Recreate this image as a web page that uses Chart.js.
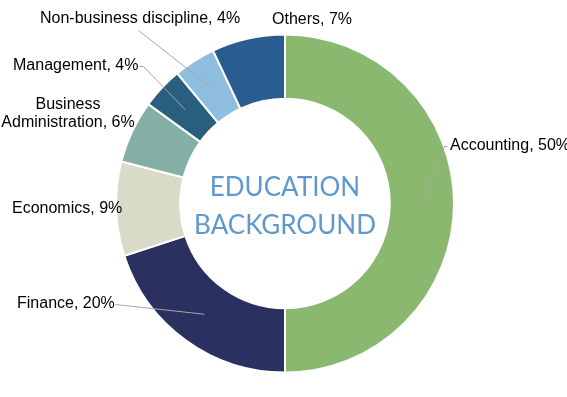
<!DOCTYPE html>
<html>
<head>
<meta charset="utf-8">
<script src="https://cdn.jsdelivr.net/npm/chart.js@4/dist/chart.umd.min.js"></script>
<style>
html,body{margin:0;padding:0;background:#fff;}
#wrap{position:relative;width:567px;height:397px;}
</style>
</head>
<body>
<div id="wrap"><canvas id="c" width="567" height="397"></canvas></div>
<script>
const categories = ["Accounting", "Finance", "Economics", "Business Administration", "Management", "Non-business discipline", "Others"];
const values = [50, 20, 9, 6, 4, 4, 7];
const colors = ["#8AB86F", "#2A3060", "#D8DBC7", "#84AFA4", "#285E7E", "#8FBDE0", "#295C8F"];
const centerLines = ["EDUCATION", "BACKGROUND"];

// label layout: text anchor, alignment, leader start (null = no leader)
const labelLayout = [
  {x: 450, y: 146, align: "left", lines: null, leader: [[447,146],[444,146]]},
  {x: 17,  y: 304, align: "left", lines: null, leader: [[115,304]]},
  {x: 12,  y: 209, align: "left", lines: null, leader: null},
  {x: 68,  y: 105, align: "center", lines: ["Business", "Administration, 6%"], leader: null},
  {x: 13,  y: 66,  align: "left", lines: null, leader: [[139,66],[143,66]]},
  {x: 40,  y: 19,  align: "left", lines: null, leader: [[138,30]]},
  {x: 272, y: 20,  align: "left", lines: null, leader: null}
];

const labelPlugin = {
  id: "labels",
  afterDatasetsDraw(chart) {
    const ctx = chart.ctx;
    const meta = chart.getDatasetMeta(0);
    ctx.save();
    // center text
    const c = meta.data[0];
    ctx.fillStyle = "#5F98CC";
    ctx.font = "26px Lato, 'Open Sans', sans-serif";
    ctx.textAlign = "center";
    ctx.textBaseline = "middle";
    ctx.fillText(centerLines[0], c.x, c.y - 16);
    ctx.fillText(centerLines[1], c.x, c.y + 22);
    // leaders
    ctx.strokeStyle = "#A6A6A6";
    ctx.lineWidth = 1;
    meta.data.forEach((arc, i) => {
      const L = labelLayout[i];
      if (!L.leader) return;
      const p = arc.getProps(["x","y","startAngle","endAngle","innerRadius","outerRadius"], true);
      const mid = (p.startAngle + p.endAngle) / 2;
      const r = (p.innerRadius + p.outerRadius) / 2;
      const ex = p.x + Math.cos(mid) * r, ey = p.y + Math.sin(mid) * r;
      ctx.beginPath();
      ctx.moveTo(L.leader[0][0] + 0.5, L.leader[0][1] + 0.5);
      for (let k = 1; k < L.leader.length; k++) ctx.lineTo(L.leader[k][0] + 0.5, L.leader[k][1] + 0.5);
      ctx.lineTo(ex, ey);
      ctx.stroke();
    });
    // label text
    ctx.fillStyle = "#000";
    ctx.font = "16px 'Liberation Sans', Arial, sans-serif";
    ctx.textBaseline = "middle";
    meta.data.forEach((arc, i) => {
      const L = labelLayout[i];
      ctx.textAlign = L.align;
      const lines = L.lines || [categories[i] + ", " + values[i] + "%"];
      lines.forEach((t, k) => ctx.fillText(t, L.x, L.y + k * 18));
    });
    ctx.restore();
  }
};

new Chart(document.getElementById("c"), {
  type: "doughnut",
  data: {
    labels: categories,
    datasets: [{
      data: values,
      backgroundColor: colors,
      borderColor: "#ffffff",
      borderWidth: 2,
      hoverOffset: 0
    }]
  },
  options: {
    responsive: false,
    animation: false,
    cutout: "62%",
    layout: {padding: {left: 115, right: 112, top: 33, bottom: 23}},
    plugins: {legend: {display: false}, tooltip: {enabled: false}},
    events: []
  },
  plugins: [labelPlugin]
});
</script>
</body>
</html>
